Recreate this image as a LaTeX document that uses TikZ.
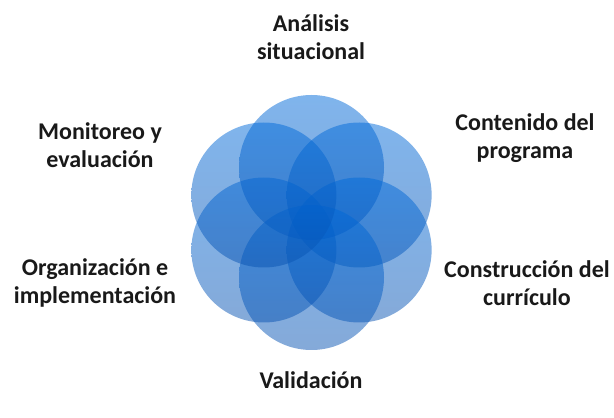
\documentclass[tikz,border=0pt]{standalone}
\usepackage{fontspec}
\setmainfont{Carlito}
\usetikzlibrary{calc}
\definecolor{petaltop}{RGB}{0,106,218}
\definecolor{petalbot}{RGB}{10,84,178}
\begin{document}
\begin{tikzpicture}[x=1pt, y=1pt, every node/.style={font=\fontsize{24}{28}\selectfont\bfseries}]
  \tikzstyle{petal}=[circle,minimum size=145pt,inner sep=0pt,top color=petaltop,bottom color=petalbot,fill opacity=0.5,draw=none]
  \tikzstyle{stage}=[align=center,text=black!90]
  \useasboundingbox (0,0) rectangle (614,418);
  \coordinate (mid) at (311.5,195.5);
  \foreach \a/\n in {90/p1,30/p2,-30/p3,-90/p4,-150/p5,150/p6}
    \node[petal] (\n) at ($(mid)+(\a:55)$) {};
  \node[stage] (ana) at (311,381) {Análisis\\situacional};
  \node[stage] (con) at (525,280) {Contenido del\\programa};
  \node[stage] (cur) at (527,135) {Construcción del\\currículo};
  \node[stage] (val) at (311,38) {Validación};
  \node[stage] (org) at (95,135) {Organización e\\implementación};
  \node[stage] (mon) at (100,273) {Monitoreo y\\evaluación};
\end{tikzpicture}
\end{document}
